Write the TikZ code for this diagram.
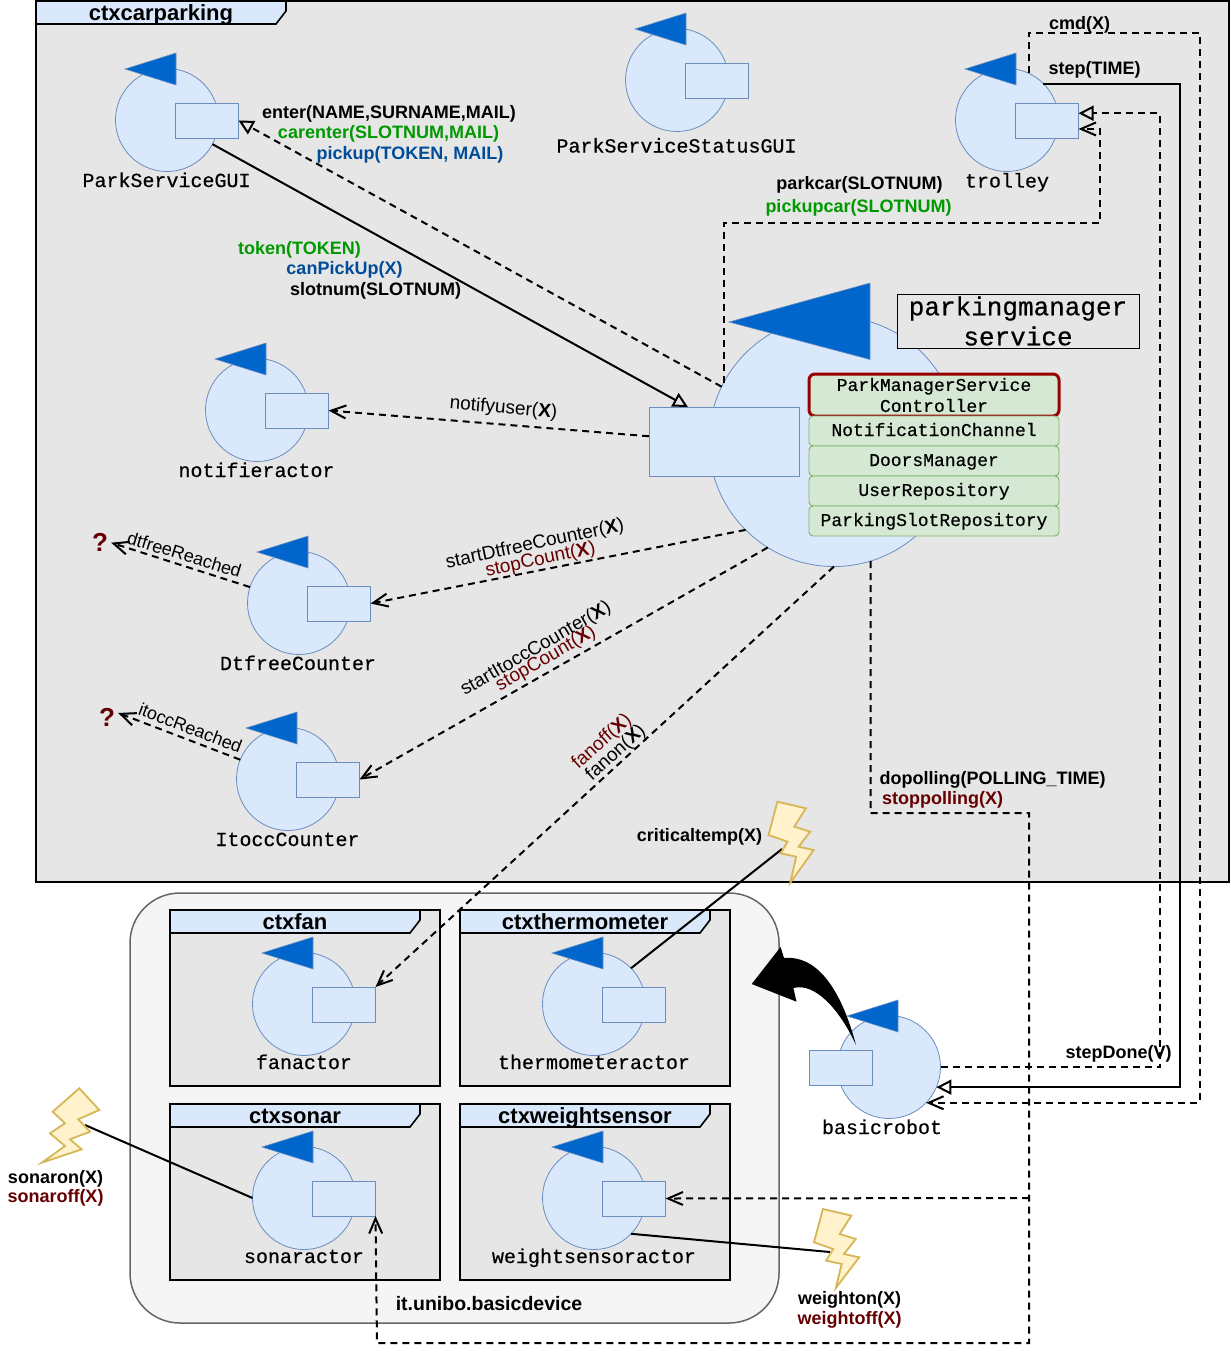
\documentclass[tikz,border=0pt]{standalone}
\usepackage{fontspec}
\setmainfont{Liberation Sans}
\setmonofont{Liberation Mono}
\newfontfamily\actfont[FakeBold=0.5]{Liberation Mono}
\usetikzlibrary{arrows.meta}

\definecolor{ctxgrey}{HTML}{E6E6E6}
\definecolor{devgrey}{HTML}{F5F5F5}
\definecolor{actfill}{HTML}{DAE8FC}
\definecolor{actline}{HTML}{6C8EBF}
\definecolor{triblue}{HTML}{0066CC}
\definecolor{compfill}{HTML}{D5E8D4}
\definecolor{compline}{HTML}{82B366}
\definecolor{boltfill}{HTML}{FFF2CC}
\definecolor{boltline}{HTML}{D6B656}
\definecolor{msggreen}{HTML}{009900}
\definecolor{msgblue}{HTML}{004C99}
\definecolor{msgred}{HTML}{660000}
\definecolor{ctrlred}{HTML}{990000}

\newcommand{\ctxframe}[7]{
  \node[ctxbox,minimum width=#4pt,minimum height=#5pt,anchor=north west] (#1) at (#2,#3) {};
  \filldraw[ctxhead] (#2,#3) -- ++(#6,0) -- ++(0,10) -- ++(-10,13) -- (#2,#3+23) -- cycle;
  \node[ctxtitle] (#1t) at (#2+#6/2,#3+19) {#7};
}
\newcommand{\actornode}[7]{
  \node[actcircle] (#1) at (#2,#3) {};
  \filldraw[acttri] (#2-42,#3-51) -- (#2+9,#3-67) -- (#2+9,#3-35) -- cycle;
  \node[actport] (#1p) at (#2+#4,#3+0.5) {};
  \node[actlabel] (#1l) at (#5,#6) {#7};
}

\begin{document}
\begin{tikzpicture}
  [x=1pt,y=-1pt,
   ctxbox/.style={rectangle,draw=black,line width=2pt,fill=ctxgrey,inner sep=0pt,outer sep=0pt},
   ctxhead/.style={draw=black,line width=1.6pt,fill=actfill,line join=miter},
   ctxtitle/.style={font=\fontsize{22}{24}\selectfont\bfseries,inner sep=0pt,anchor=base},
   actcircle/.style={circle,draw=actline,line width=0.8pt,fill=actfill,minimum size=103pt,inner sep=0pt,outer sep=0pt},
   acttri/.style={draw=actline,line width=0.6pt,fill=triblue},
   actport/.style={rectangle,draw=actline,line width=0.9pt,fill=actfill,minimum width=63pt,minimum height=35pt,inner sep=0pt,outer sep=0pt},
   actlabel/.style={font=\fontsize{20}{22}\selectfont\actfont,inner sep=0pt,text height=12pt,text depth=0pt},
   compbox/.style={rectangle,rounded corners=4pt,draw=compline,line width=0.9pt,fill=compfill,minimum width=250pt,minimum height=30pt,inner sep=0pt,font=\fontsize{18}{21}\selectfont\actfont,text height=10pt,text depth=0pt},
   msg/.style={font=\fontsize{18}{20}\selectfont\bfseries,inner sep=0pt,text height=12pt,text depth=0pt},
   rotmsg/.style={font=\fontsize{19}{20}\selectfont,inner sep=0pt},
   msgline/.style={line width=2pt,dash pattern=on 7pt off 5pt},
   solidline/.style={line width=2pt},
   barbtip/.style={-{Straight Barb[length=15pt,width=13pt]}},
   blocktip/.style={-{Triangle[open,length=15pt,width=15pt]}},
   flash/.style={draw=boltline,line width=1.8pt,fill=boltfill,line join=miter},
   qmark/.style={font=\fontsize{26}{28}\selectfont\bfseries,text=msgred,inner sep=3pt}]
  \useasboundingbox (0,0) rectangle (1231,1361);

  \ctxframe{ctxcarparking}{36}{1}{1193}{881}{250}{ctxcarparking}
  \node[rectangle,draw=black!60,line width=1.5pt,fill=devgrey,rounded corners=50pt,minimum width=649pt,minimum height=430pt,anchor=north west,inner sep=0pt,outer sep=0pt] (basicdevice) at (130,893) {};
  \ctxframe{ctxfan}{170}{910}{270}{176}{250}{ctxfan}
  \ctxframe{ctxthermometer}{460}{910}{270}{176}{250}{ctxthermometer}
  \ctxframe{ctxsonar}{170}{1104}{270}{176}{250}{ctxsonar}
  \ctxframe{ctxweightsensor}{460}{1104}{270}{176}{250}{ctxweightsensor}
  \node[msg,font=\fontsize{19.5}{22}\selectfont\bfseries] (basicdevicel) at (489,1304) {it.unibo.basicdevice};

  \actornode{gui}{167}{120}{40}{166.5}{181}{ParkServiceGUI}
  \actornode{status}{677}{80}{40}{676.5}{146.5}{ParkServiceStatusGUI}
  \actornode{trolley}{1007}{120}{40}{1007}{181.5}{trolley}
  \actornode{notifier}{257}{410}{40}{256.5}{471}{notifieractor}
  \actornode{dtfree}{299}{603}{40}{298}{664}{DtfreeCounter}
  \actornode{itocc}{288}{779}{40}{287.5}{840}{ItoccCounter}
  \actornode{fan}{304}{1004}{40}{304}{1063}{fanactor}
  \actornode{thermo}{594}{1004}{40}{594}{1063}{thermometeractor}
  \actornode{sonar}{304}{1198}{40}{304}{1257}{sonaractor}
  \actornode{weight}{594}{1198}{40}{594}{1257}{weightsensoractor}
  \actornode{robot}{889}{1067}{-48}{882}{1128}{basicrobot}

  \node[circle,draw=actline,line width=0.8pt,fill=actfill,minimum size=250pt,inner sep=0pt,outer sep=0pt] (pms) at (834,441.5) {};
  \filldraw[acttri] (729,322) -- (870,283) -- (870,359.5) -- cycle;
  \node[rectangle,draw=actline,line width=0.9pt,fill=actfill,minimum width=150pt,minimum height=69pt,inner sep=0pt,outer sep=0pt] (pmsp) at (724,441.5) {};
  \node[rectangle,draw=black,line width=0.8pt,fill=ctxgrey,minimum width=242pt,minimum height=54pt,inner sep=0pt,align=center,font=\fontsize{26}{30}\selectfont\actfont] (pmstitle) at (1018,321) {parkingmanager\\service};
  \node[compbox,draw=ctrlred,line width=3pt,rounded corners=6pt,minimum height=42pt,align=center,text height=,text depth=] (controller) at (934,395) {ParkManagerService\\Controller};
  \node[compbox] (notifchan) at (934,431) {NotificationChannel};
  \node[compbox] (doors) at (934,461) {DoorsManager};
  \node[compbox] (userrepo) at (934,491) {UserRepository};
  \node[compbox] (slotrepo) at (934,521) {ParkingSlotRepository};

  \node[qmark] (qdtfree) at (100,542.7) {?};
  \node[qmark] (qitocc) at (107,717) {?};

  \coordinate (pmstop) at (688,407);
  \coordinate (pollsplit) at (1029,1198);
  \coordinate (thermobolt) at (782,849);
  \coordinate (sonarbolt) at (85,1125);
  \coordinate (weightbolt) at (830,1252);
  \coordinate (robottail) at (856,1045);

  \draw[solidline] (thermo.44) -- (thermobolt);
  \draw[solidline] (sonar.west) -- (sonarbolt);
  \draw[solidline] (weight.-44) -- (weightbolt);

  \draw[flash] (777.4,801.7) -- (805.9,808.3) -- (794.2,826.7) -- (810.2,831.7) -- (798.5,846.7) -- (813.7,850) -- (790.3,882.7) -- (796.2,856.7) -- (780.6,853.3) -- (787.6,841.7) -- (768.5,835) -- cycle;
  \draw[flash] (822.9,1209) -- (851.4,1215.6) -- (839.7,1234) -- (855.7,1239) -- (844,1254) -- (859.2,1257.3) -- (835.8,1288) -- (841.7,1264) -- (826.1,1260.6) -- (833.1,1249) -- (814,1242.3) -- cycle;
  \draw[flash] (79.3,1088.3) -- (99.3,1110) -- (78.3,1119.3) -- (90,1131.7) -- (70,1139.3) -- (81.7,1149.3) -- (41.7,1162.7) -- (65,1146) -- (50,1133.3) -- (65,1123.3) -- (52.7,1111.7) -- cycle;

  \draw[msgline,blocktip] (pms.154.7) -- (guip.east);
  \draw[solidline,blocktip] (gui.-28) -- (pmstop);
  \draw[msgline,barbtip] (pmsp.176) -- (notifierp.east);
  \draw[msgline,barbtip] (pms.152.6) |- (1100,223) |- (trolleyp.-15);
  \draw[msgline,blocktip] (robot.east) -| (1160,1000) |- (trolleyp.13);
  \draw[solidline,blocktip] (trolley.45) -| (1180,1000) |- (robot.-23);
  \draw[msgline,barbtip] (trolley.65) |- (1200,33) |- (robot.-44);
  \draw[msgline,barbtip] (pms.225.8) -- (dtfreep.east);
  \draw[msgline,barbtip] (pms.238.1) -- (itoccp.east);
  \draw[msgline,barbtip] (pms.270) -- (fanp.north east);
  \draw[msgline,barbtip] (pms.-73.7) |- (1029,813) |- (377,1343) -- (sonarp.south east);
  \draw[msgline,barbtip] (pollsplit) -- (weightp.east);
  \draw[msgline,barbtip] (dtfree.162) -- (qdtfree.east);
  \draw[msgline,barbtip] (itocc.158) -- (qitocc.20);

  \fill[black] (robottail) .. controls (840,985) and (815,955) .. (784,958) -- (780.6,947) -- (751.7,984) -- (796.5,1001.7) -- (793.4,988) .. controls (815,982) and (840,1010) .. (robottail);

  \node[msg] (menter) at (389,112) {enter(NAME,SURNAME,MAIL)};
  \node[msg,text=msggreen] (mcarenter) at (388.5,132) {carenter(SLOTNUM,MAIL)};
  \node[msg,text=msgblue] (mpickup) at (410,153) {pickup(TOKEN, MAIL)};
  \node[msg,text=msggreen] (mtoken) at (299.5,248) {token(TOKEN)};
  \node[msg,text=msgblue] (mcanpick) at (344.5,268) {canPickUp(X)};
  \node[msg] (mslotnum) at (375.5,289) {slotnum(SLOTNUM)};
  \node[msg] (mparkcar) at (859.5,183) {parkcar(SLOTNUM)};
  \node[msg,text=msggreen] (mpickupcar) at (858.5,206) {pickupcar(SLOTNUM)};
  \node[msg] (mcmd) at (1079.5,23) {cmd(X)};
  \node[msg] (mstep) at (1094.5,68) {step(TIME)};
  \node[msg] (mstepdone) at (1118.5,1052) {stepDone(V)};
  \node[msg] (mdopolling) at (992.5,778) {dopolling(POLLING\_TIME)};
  \node[msg,text=msgred] (mstoppolling) at (942.5,798) {stoppolling(X)};
  \node[msg] (mcritical) at (699.5,835) {criticaltemp(X)};
  \node[msg] (msonaron) at (55.5,1177) {sonaron(X)};
  \node[msg,text=msgred] (msonaroff) at (55.5,1196) {sonaroff(X)};
  \node[msg] (mweighton) at (849.5,1298) {weighton(X)};
  \node[msg,text=msgred] (mweightoff) at (849.5,1318) {weightoff(X)};

  \node[rotmsg,rotate=-5] (mnotifyuser) at (503.5,408.5) {notifyuser(\textbf{X})};
  \node[rotmsg,rotate=12] (mstartdt) at (535,544.5) {startDtfreeCounter(\textbf{X})};
  \node[rotmsg,rotate=12,text=msgred] (mstopdt) at (540.5,560) {stopCount(\textbf{X})};
  \node[rotmsg,rotate=30] (mstartit) at (536,649) {startItoccCounter(\textbf{X})};
  \node[rotmsg,rotate=30,text=msgred] (mstopit) at (546,659) {stopCount(\textbf{X})};
  \node[rotmsg,rotate=42,text=msgred] (mfanoff) at (602,742) {fanoff(\textbf{X})};
  \node[rotmsg,rotate=42] (mfanon) at (616,753) {fanon(\textbf{X})};
  \node[rotmsg,rotate=-17,font=\fontsize{18}{19}\selectfont] (mdtreached) at (184.5,554.5) {dtfreeReached};
  \node[rotmsg,rotate=-21,font=\fontsize{18}{19}\selectfont] (mitreached) at (190.5,728) {itoccReached};
\end{tikzpicture}
\end{document}
